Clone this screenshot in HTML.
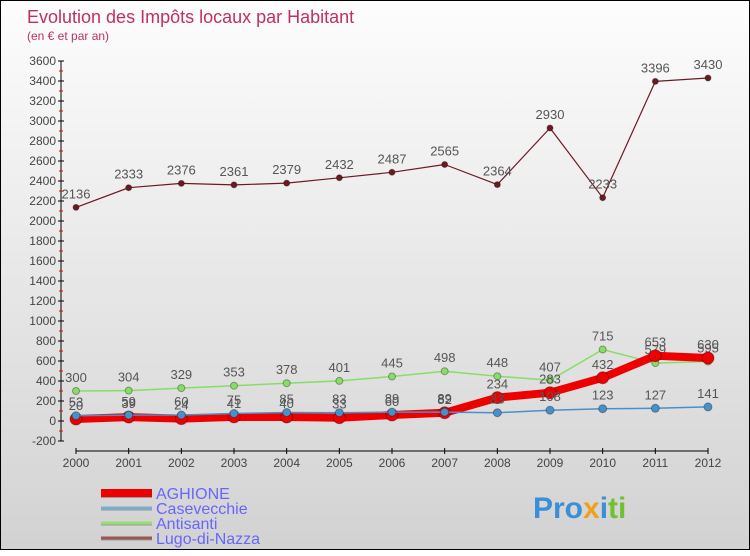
<!DOCTYPE html>
<html><head><meta charset="utf-8"><style>
body{margin:0;width:750px;height:550px;overflow:hidden}
#c{position:absolute;left:0;top:0;width:748px;height:548px;border:1px solid #000;background:linear-gradient(#fdfdfd,#d2d2d2)}
text{font-family:"Liberation Sans","DejaVu Sans",sans-serif}
</style></head><body>
<div id="c">
<svg id="s" width="750" height="550">
<text x="26" y="22" font-size="18" fill="#c0305e">Evolution des Impôts locaux par Habitant</text>
<text x="26" y="39" font-size="12" fill="#c0305e">(en € et par an)</text>
<g id="g"></g>
<text x="532" y="517" font-size="30" font-weight="bold" fill="#3a8fd6">Pro<tspan fill="#f0a020">x</tspan><tspan fill="#3a8fd6">i</tspan><tspan fill="#70c030">ti</tspan></text>
</svg></div>
<script>
const years=[2000,2001,2002,2003,2004,2005,2006,2007,2008,2009,2010,2011,2012];
const yTicks=[-200,0,200,400,600,800,1000,1200,1400,1600,1800,2000,2200,2400,2600,2800,3000,3200,3400,3600];
const aghione=[20,39,24,41,40,33,60,82,234,283,432,653,630];
const casevecchie=[53,59,60,75,85,83,89,89,83,108,123,127,141];
const antisanti=[300,304,329,353,378,401,445,498,448,407,715,579,595];
const lugo=[2136,2333,2376,2361,2379,2432,2487,2565,2364,2930,2233,3396,3430];
const NS="http://www.w3.org/2000/svg",g=document.getElementById('g');
const X=i=>75+i*(707-75)/(years.length-1);
const Y=v=>420-v*0.1;
function el(t,a,p){const e=document.createElementNS(NS,t);for(const k in a)e.setAttribute(k,a[k]);(p||g).appendChild(e);return e;}
let ax=el('line',{x1:60,y1:60,x2:60,y2:440,stroke:'#000'});


yTicks.forEach((v,k)=>{
 el('line',{x1:57,x2:63,y1:Y(v),y2:Y(v),stroke:'#000'});
 if(k<yTicks.length-1) el('line',{x1:58,x2:62,y1:Y(v+100),y2:Y(v+100),stroke:'#e00'});
 const t=el('text',{x:55,y:Y(v)+4,'font-size':12,fill:'#444','text-anchor':'end'});t.textContent=v;
 
 
});
let xa=el('line',{x1:75,y1:450,x2:707,y2:450,stroke:'#000'});


years.forEach((y,i)=>{
 el('line',{x1:X(i),x2:X(i),y1:447,y2:453,stroke:'#000'});
 const t=el('text',{x:X(i),y:466,'font-size':12,fill:'#444','text-anchor':'middle'});t.textContent=y;
 
 
});
function series(d,col,w,r,name){
 const p=el('polyline',{points:d.map((v,i)=>X(i)+','+Y(v)).join(' '),fill:'none',stroke:col,'stroke-width':w,'stroke-linejoin':'round'});
 
 
 d.forEach((v,i)=>{
  const c=el('circle',{cx:X(i),cy:Y(v),r:r,fill:col,stroke:'#00000055'});
  
  
  const t=el('text',{x:X(i),y:Y(v)-9,'font-size':13,fill:'#555','text-anchor':'middle'});t.textContent=v;
  
  
 });
}
series(lugo,'#6b1a22',1.2,3,'lugo-di-nazza');
series(antisanti,'#88dd66',1.5,3.5,'antisanti');
series(aghione,'#ee0000',8,6,'aghione');
series(casevecchie,'#4a90c8',1.5,4,'casevecchie');
const leg=[['AGHIONE','#ee0000',8],['Casevecchie','#7aaed0',3],['Antisanti','#99dd77',3],['Lugo-di-Nazza','#9a5555',3]];
leg.forEach((l,i)=>{
 const y=492+i*15;
 el('line',{x1:100,x2:151,y1:y+1,y2:y+1,stroke:'#999','stroke-width':l[2]});
 const ln=el('line',{x1:100,x2:151,y1:y,y2:y,stroke:l[1],'stroke-width':l[2]});
 
 
 const t=el('text',{x:155,y:y+6,'font-size':16,fill:'#6666ff'});t.textContent=l[0];
 
 
});
</script>
</body></html>
